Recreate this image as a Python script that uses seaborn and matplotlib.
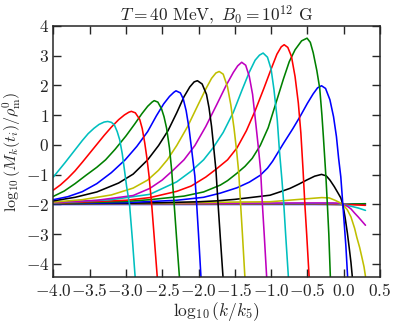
import pandas as pd
import matplotlib
matplotlib.use("Agg")
import matplotlib.pyplot as plt
from matplotlib.ticker import FuncFormatter, MultipleLocator
import seaborn as sns

# curves in drawing order (first = flattest)
x01 = [-4.0, -2.0, -0.5, -0.012, 0.15, 0.30]
y01 = [-2.00, -2.00, -2.00, -2.00, -1.99, -1.99]
x02 = [-4.0, -2.0, -0.5, -0.012, 0.15, 0.30]
y02 = [-1.99, -1.99, -1.99, -2.00, -1.985, -1.975]
x03 = [-4.0, -2.0, -0.5, -0.012, 0.15, 0.30]
y03 = [-1.99, -1.99, -1.98, -2.00, -2.015, -2.03]
x04 = [-4.0, -1.0, -0.1, -0.012, 0.10, 0.20, 0.30]
y04 = [-1.98, -1.97, -1.97, -2.00, -2.06, -2.12, -2.20]
x05 = [-4.0, -2.0, -0.5, -0.15, -0.06, -0.012, 0.05, 0.10, 0.15, 0.20, 0.25, 0.30]
y05 = [-1.97, -1.96, -1.95, -1.95, -1.96, -2.00, -2.06, -2.15, -2.29, -2.42, -2.56, -2.70]
x06 = [-4.0, -2.0, -1.5, -1.015, -0.56, -0.305, -0.20, -0.12, -0.06, -0.012, 0.05, 0.10,
       0.15, 0.18, 0.22, 0.25, 0.28, 0.30]
y06 = [-1.98, -1.94, -1.92, -1.91, -1.82, -1.77, -1.78, -1.86, -1.93, -2.00, -2.18, -2.42,
       -2.80, -3.10, -3.45, -3.77, -4.10, -4.42]
x07 = [-4.0, -3.0, -2.5, -2.0, -1.75, -1.5, -1.29, -1.015, -0.88, -0.74, -0.62, -0.51,
       -0.40, -0.305, -0.24, -0.19, -0.13, -0.075, -0.04, -0.012, 0.02, 0.05, 0.075, 0.10, 0.125]
y07 = [-1.98, -1.96, -1.94, -1.91, -1.88, -1.83, -1.77, -1.69, -1.58, -1.46, -1.32, -1.18,
       -1.05, -0.99, -1.04, -1.18, -1.40, -1.63, -1.78, -2.00, -2.45, -2.95, -3.44, -3.95, -4.6]
x08 = [-4.0, -3.0, -2.3, -1.93, -1.70, -1.47, -1.30, -1.15, -1.05, -0.98, -0.83, -0.70,
       -0.60, -0.50, -0.42, -0.36, -0.305, -0.25, -0.19, -0.14, -0.10, -0.07, -0.04, -0.012,
       0.03, 0.06]
y08 = [-1.975, -1.94, -1.86, -1.76, -1.62, -1.44, -1.25, -1.02, -0.78, -0.55, 0.05, 0.55,
       0.96, 1.40, 1.72, 1.92, 1.99, 1.90, 1.52, 0.95, 0.28, -0.45, -1.07, -2.00,
       -3.40, -4.70]
x09 = [-4.0, -3.0, -2.67, -2.20, -1.93, -1.70, -1.60, -1.47, -1.36, -1.26, -1.15, -1.04,
       -0.95, -0.83, -0.75, -0.67, -0.58, -0.505, -0.46, -0.42, -0.37, -0.33, -0.30, -0.28,
       -0.245, -0.225, -0.205, -0.18]
y09 = [-1.97, -1.90, -1.84, -1.72, -1.58, -1.35, -1.20, -0.95, -0.72, -0.45, -0.02, 0.58,
       1.28, 2.22, 2.80, 3.20, 3.50, 3.59, 3.45, 3.10, 2.50, 1.90, 1.00, 0.28,
       -1.07, -2.00, -3.00, -4.70]
x10 = [-4.0, -3.0, -2.67, -2.30, -2.10, -1.90, -1.75, -1.60, -1.47, -1.34, -1.22, -1.10,
       -1.00, -0.92, -0.86, -0.82, -0.77, -0.72, -0.67, -0.625, -0.59, -0.56, -0.535, -0.51,
       -0.47]
y10 = [-1.96, -1.86, -1.77, -1.56, -1.38, -1.08, -0.80, -0.50, -0.10, 0.48, 1.15, 1.90,
       2.55, 3.05, 3.30, 3.37, 3.28, 2.98, 2.30, 1.41, 0.40, -0.84, -2.00, -3.00,
       -4.70]
x11 = [-4.0, -3.2, -2.67, -2.30, -2.10, -1.93, -1.80, -1.66, -1.52, -1.40, -1.30, -1.22,
       -1.16, -1.11, -1.05, -1.00, -0.96, -0.915, -0.885, -0.85, -0.825, -0.80, -0.755]
y11 = [-1.95, -1.84, -1.66, -1.24, -0.88, -0.50, -0.10, 0.42, 1.10, 1.85, 2.45, 2.85,
       3.02, 3.09, 2.95, 2.55, 1.85, 0.84, -0.20, -1.20, -2.00, -3.00, -4.70]
x12 = [-4.0, -3.4, -2.90, -2.67, -2.50, -2.35, -2.20, -2.05, -1.90, -1.75, -1.62, -1.52,
       -1.46, -1.405, -1.35, -1.30, -1.255, -1.21, -1.175, -1.145, -1.12, -1.095, -1.055]
y12 = [-1.94, -1.86, -1.70, -1.46, -1.18, -0.85, -0.50, -0.02, 0.62, 1.35, 2.00, 2.44,
       2.66, 2.78, 2.68, 2.30, 1.70, 0.70, -0.10, -0.84, -2.00, -3.00, -4.70]
x13 = [-4.0, -3.6, -3.2, -2.90, -2.70, -2.55, -2.43, -2.30, -2.15, -2.00, -1.90, -1.82,
       -1.76, -1.715, -1.66, -1.60, -1.555, -1.51, -1.475, -1.445, -1.42, -1.395, -1.355]
y13 = [-1.92, -1.84, -1.68, -1.45, -1.18, -0.85, -0.50, -0.02, 0.62, 1.38, 1.88, 2.24,
       2.42, 2.47, 2.38, 1.95, 1.35, 0.55, -0.20, -0.95, -2.00, -3.00, -4.70]
x14 = [-4.0, -3.70, -3.40, -3.10, -2.90, -2.70, -2.55, -2.42, -2.30, -2.20, -2.12, -2.06,
       -2.015, -1.95, -1.89, -1.855, -1.82, -1.79, -1.76, -1.73, -1.70, -1.655]
y14 = [-1.88, -1.76, -1.58, -1.28, -0.98, -0.50, -0.02, 0.48, 1.08, 1.62, 1.95, 2.12,
       2.16, 2.05, 1.70, 1.25, 0.62, -0.10, -0.84, -2.00, -3.10, -4.70]
x15 = [-4.0, -3.80, -3.60, -3.40, -3.20, -3.01, -2.85, -2.70, -2.58, -2.48, -2.40, -2.34,
       -2.31, -2.25, -2.21, -2.17, -2.13, -2.09, -2.05, -2.025, -2.00, -1.96]
y15 = [-1.84, -1.74, -1.57, -1.30, -0.93, -0.50, -0.05, 0.45, 0.98, 1.38, 1.63, 1.77,
       1.82, 1.75, 1.55, 1.15, 0.55, -0.25, -1.05, -2.00, -3.00, -4.70]
x16 = [-4.0, -3.85, -3.70, -3.55, -3.40, -3.28, -3.15, -3.00, -2.88, -2.78, -2.70, -2.64,
       -2.61, -2.56, -2.51, -2.475, -2.44, -2.40, -2.37, -2.335, -2.30, -2.255]
y16 = [-1.73, -1.55, -1.30, -1.02, -0.75, -0.50, -0.15, 0.30, 0.70, 1.05, 1.30, 1.44,
       1.49, 1.44, 1.22, 0.95, 0.57, -0.10, -0.84, -2.00, -3.20, -4.70]
x17 = [-4.0, -3.90, -3.80, -3.70, -3.60, -3.50, -3.40, -3.30, -3.20, -3.10, -3.02, -2.96,
       -2.925, -2.87, -2.81, -2.775, -2.74, -2.71, -2.68, -2.645, -2.61, -2.56]
y17 = [-1.52, -1.34, -1.12, -0.87, -0.58, -0.28, 0.02, 0.32, 0.60, 0.85, 1.01, 1.10,
       1.13, 1.08, 0.86, 0.55, 0.06, -0.45, -1.07, -2.00, -3.10, -4.70]
x18 = [-4.0, -3.92, -3.84, -3.76, -3.68, -3.60, -3.52, -3.44, -3.37, -3.30, -3.25, -3.20,
       -3.16, -3.12, -3.085, -3.05, -3.02, -2.99, -2.95, -2.91, -2.865]
y18 = [-1.08, -0.84, -0.60, -0.35, -0.10, 0.15, 0.38, 0.56, 0.69, 0.77, 0.79, 0.76,
       0.68, 0.45, 0.17, -0.30, -0.84, -1.40, -2.00, -3.20, -4.70]

xs = [x01, x02, x03, x04, x05, x06, x07, x08, x09, x10, x11, x12, x13, x14, x15, x16, x17, x18]
ys = [y01, y02, y03, y04, y05, y06, y07, y08, y09, y10, y11, y12, y13, y14, y15, y16, y17, y18]
cycle = ["#0000ff", "#008000", "#ff0000", "#00bfbf", "#bf00bf", "#bfbf00", "#000000"]

frames = []
for i, (xv, yv) in enumerate(zip(xs, ys)):
    frames.append(pd.DataFrame({"logk": xv, "logM": yv, "curve": i}))
df = pd.concat(frames, ignore_index=True)
palette = [cycle[i % 7] for i in range(len(xs))]

sns.set_style("ticks")
plt.rcParams["mathtext.fontset"] = "cm"
plt.rcParams["font.family"] = ["DejaVu Serif"]

fig = plt.figure(figsize=(3.96, 3.22), dpi=100)
ax = fig.add_axes([0.1346, 0.1388, 0.9596 - 0.1346, 0.9193 - 0.1388])

sns.lineplot(data=df, x="logk", y="logM", hue="curve", palette=palette, sort=False,
             estimator=None, legend=False, linewidth=1.15, ax=ax)

ax.set_xlim(-4.0, 0.5)
ax.set_ylim(-4.45, 4.0)
ax.xaxis.set_major_locator(MultipleLocator(0.5))
ax.yaxis.set_major_locator(MultipleLocator(1))
ax.xaxis.set_major_formatter(FuncFormatter(lambda v, p: r"$%.1f$" % v))
ax.yaxis.set_major_formatter(FuncFormatter(lambda v, p: r"$%d$" % round(v)))
ax.tick_params(direction="in", top=True, right=True, length=6, width=1, labelsize=12.5, pad=4)
ax.tick_params(axis="y", pad=3)
for s in ax.spines.values():
    s.set_linewidth(1.1)

ax.set_xlabel(r"$\log_{10}(k/k_5)$", fontsize=12.5, labelpad=0)
ax.set_ylabel(r"$\log_{10}(M_k(t_i)/\rho_{\rm m}^0)$", fontsize=11.5)
ax.yaxis.set_label_coords(-0.092, 0.5)
ax.set_title(r"$T = 40\ {\rm MeV},\ B_0 = 10^{12}\ {\rm G}$", fontsize=12.5, pad=4)

fig.savefig("out.png", dpi=100)
